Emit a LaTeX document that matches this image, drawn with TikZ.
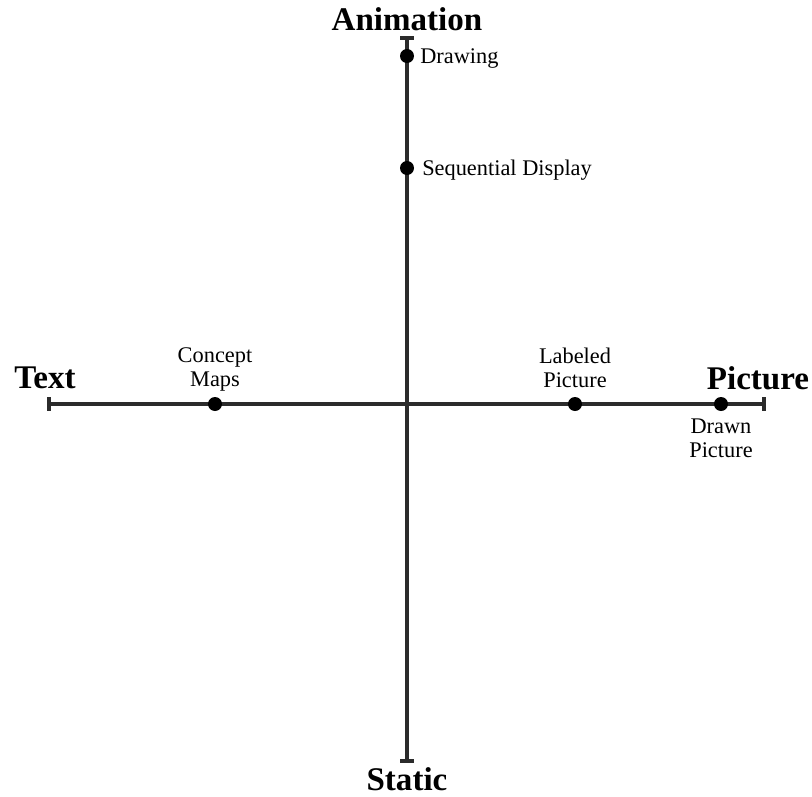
\documentclass[tikz,border=0pt]{standalone}
\usepackage{fontspec}
\setmainfont{Liberation Serif}
\definecolor{axisgray}{HTML}{2B2B2B}
\tikzset{
    axis/.style={line width=2.6pt, draw=axisgray},
    endlabel/.style={font=\bfseries\fontsize{23.5}{28}\selectfont, inner sep=0pt},
    ptlabel/.style={font=\fontsize{15.9}{17.1}\selectfont, inner sep=0pt, align=center},
}
\begin{document}
\begin{tikzpicture}[x=0.025cm, y=-0.025cm]
    \useasboundingbox (0,0) rectangle (812,797);
    \coordinate (T) at (407,38);
    \coordinate (B) at (407,761);
    \coordinate (L) at (49,404);
    \coordinate (R) at (764,404);

    %axes
    \draw[axis] (T) -- (B);
    \draw[axis] (L) -- (R);

    %end ticks
    \draw[axis] (T) ++(-7,0) -- ++(14,0);
    \draw[axis] (B) ++(-7,0) -- ++(14,0);
    \draw[axis] (L) ++(0,-7) -- ++(0,14);
    \draw[axis] (R) ++(0,-7) -- ++(0,14);

    %axis names
    \node[endlabel, anchor=base] (anim) at (407,30) {Animation};
    \node[endlabel, anchor=base] (stat) at (407,790) {Static};
    \node[endlabel, anchor=base] (text) at (45,388) {Text};
    \node[endlabel, anchor=base] (pict) at (758,389) {Picture};

    %points
    \foreach \n/\x/\y in {drw/407/56, seq/407/168, con/215/404, lab/575/404, drn/721/404}
    {
        \fill (\x,\y) coordinate (\n) circle (7);
    }

    \node[ptlabel, anchor=base west] (drwl) at (420,63) {Drawing};
    \node[ptlabel, anchor=base west] (seql) at (422,175) {Sequential Display};
    \node[ptlabel, anchor=south] (conl) at (215,392) {Concept\\Maps};
    \node[ptlabel, anchor=south] (labl) at (575,388) {Labeled\\Picture};
    \node[ptlabel, anchor=north] (drnl) at (721,419) {Drawn\\Picture};
\end{tikzpicture}
\end{document}
